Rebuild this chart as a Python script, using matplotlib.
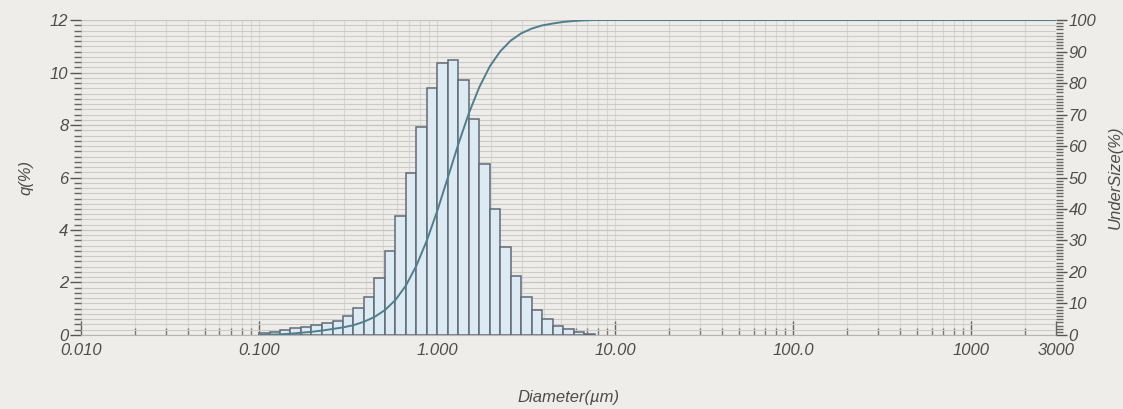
import numpy as np
import matplotlib
matplotlib.use('Agg')
import matplotlib.pyplot as plt
from matplotlib.ticker import FixedLocator, MultipleLocator, NullFormatter

# channel edges (um) of the size classes that carry the histogram
edges = [0.100, 0.115, 0.131, 0.150, 0.172, 0.197, 0.226, 0.259, 0.296, 0.339,
         0.389, 0.445, 0.510, 0.584, 0.669, 0.766, 0.877, 1.005, 1.151, 1.318,
         1.510, 1.729, 1.981, 2.269, 2.599, 2.976, 3.409, 3.905, 4.472, 5.122,
         5.867, 6.720, 7.697]

# frequency q(%) per class
q = [0.09, 0.13, 0.19, 0.27, 0.32, 0.38, 0.45, 0.53, 0.72, 1.03,
     1.46, 2.18, 3.20, 4.55, 6.19, 7.92, 9.40, 10.38, 10.48, 9.70,
     8.22, 6.51, 4.80, 3.36, 2.25, 1.46, 0.95, 0.60, 0.35, 0.22,
     0.13, 0.05]

# undersize curve (%) read at the channel edges, then flat to 3000 um
under_x = edges + [3000.0]
under = [0.0, 0.1, 0.2, 0.4, 0.7, 1.0, 1.4, 1.9, 2.4, 3.1,
         4.2, 5.7, 7.9, 11.1, 15.7, 22.0, 30.0, 39.5, 50.0, 60.6,
         70.4, 78.7, 85.3, 90.1, 93.5, 95.8, 97.3, 98.3, 98.9, 99.4,
         99.7, 99.9, 100.0, 100.0]

xticks = [0.01, 0.1, 1, 10, 100, 1000, 3000]
xticklabels = ['0.010', '0.100', '1.000', '10.00', '100.0', '1000', '3000']

bg = '#eeede9'
txt = '#4d4d4d'
plt.rcParams['font.family'] = ['Liberation Sans', 'DejaVu Sans']
plt.rcParams['font.style'] = 'italic'

fig = plt.figure(figsize=(11.23, 4.09), dpi=100, facecolor=bg)
ax = fig.add_axes([0.0721, 0.181, 0.8682, 0.770], facecolor=bg)

left = np.array(edges[:-1])
right = np.array(edges[1:])
ax.bar(left, q, width=right - left, align='edge', facecolor='#dceaf3',
       edgecolor='#626a74', linewidth=1.1, zorder=3)

ax.set_xscale('log')
ax.set_xlim(0.01, 3000)
ax.set_ylim(0, 12)

# grid
minor_x = [m * 10.0 ** e for e in range(-2, 4) for m in range(2, 10) if m * 10.0 ** e < 3000]
ax.xaxis.set_major_locator(FixedLocator(xticks))
ax.xaxis.set_minor_locator(FixedLocator(minor_x))
ax.xaxis.set_minor_formatter(NullFormatter())
ax.set_xticklabels(xticklabels)
ax.yaxis.set_major_locator(MultipleLocator(2))
ax.yaxis.set_minor_locator(MultipleLocator(0.2))
ax.grid(which='minor', axis='y', color='#cbcbc7', linewidth=0.8, zorder=0)
ax.grid(which='major', axis='y', color='#c4c4c0', linewidth=0.9, zorder=0)
ax.grid(which='both', axis='x', color='#d6d6d2', linewidth=0.8, zorder=0)
ax.set_axisbelow(True)

ax.tick_params(axis='y', which='major', length=8, width=1.0, color='#555555',
               labelsize=12, labelcolor=txt, pad=1)
ax.tick_params(axis='y', which='minor', length=5, width=1.0, color='#666666')
ax.tick_params(axis='x', which='major', direction='in', length=10, width=1.0,
               color='#666666', labelsize=12, labelcolor=txt, pad=6)
ax.tick_params(axis='x', which='minor', direction='in', length=5, width=1.0, color='#777777')

for s in ax.spines.values():
    s.set_visible(False)
ax.spines['bottom'].set_visible(True)
ax.spines['bottom'].set_color('#b5b5b5')

ax.set_ylabel('q(%)', fontsize=12, color=txt, labelpad=12)
ax.set_xlabel('Diameter(\u00b5m)', fontsize=12, color=txt)
ax.xaxis.set_label_coords(0.50, -0.175)

ax2 = ax.twinx()
ax2.set_ylim(0, 100)
ax2.plot(under_x, under, color='#4f7f8c', linewidth=1.4, zorder=4)
ax2.yaxis.set_major_locator(MultipleLocator(10))
ax2.yaxis.set_minor_locator(MultipleLocator(1))
ax2.tick_params(axis='y', which='major', length=8, width=1.0, color='#555555',
                labelsize=12, labelcolor=txt, pad=1)
ax2.tick_params(axis='y', which='minor', length=5, width=1.0, color='#666666')
for s in ax2.spines.values():
    s.set_visible(False)
ax2.set_ylabel('UnderSize(%)', fontsize=12, color=txt, labelpad=8)

fig.savefig('out.png', dpi=100, facecolor=bg)
